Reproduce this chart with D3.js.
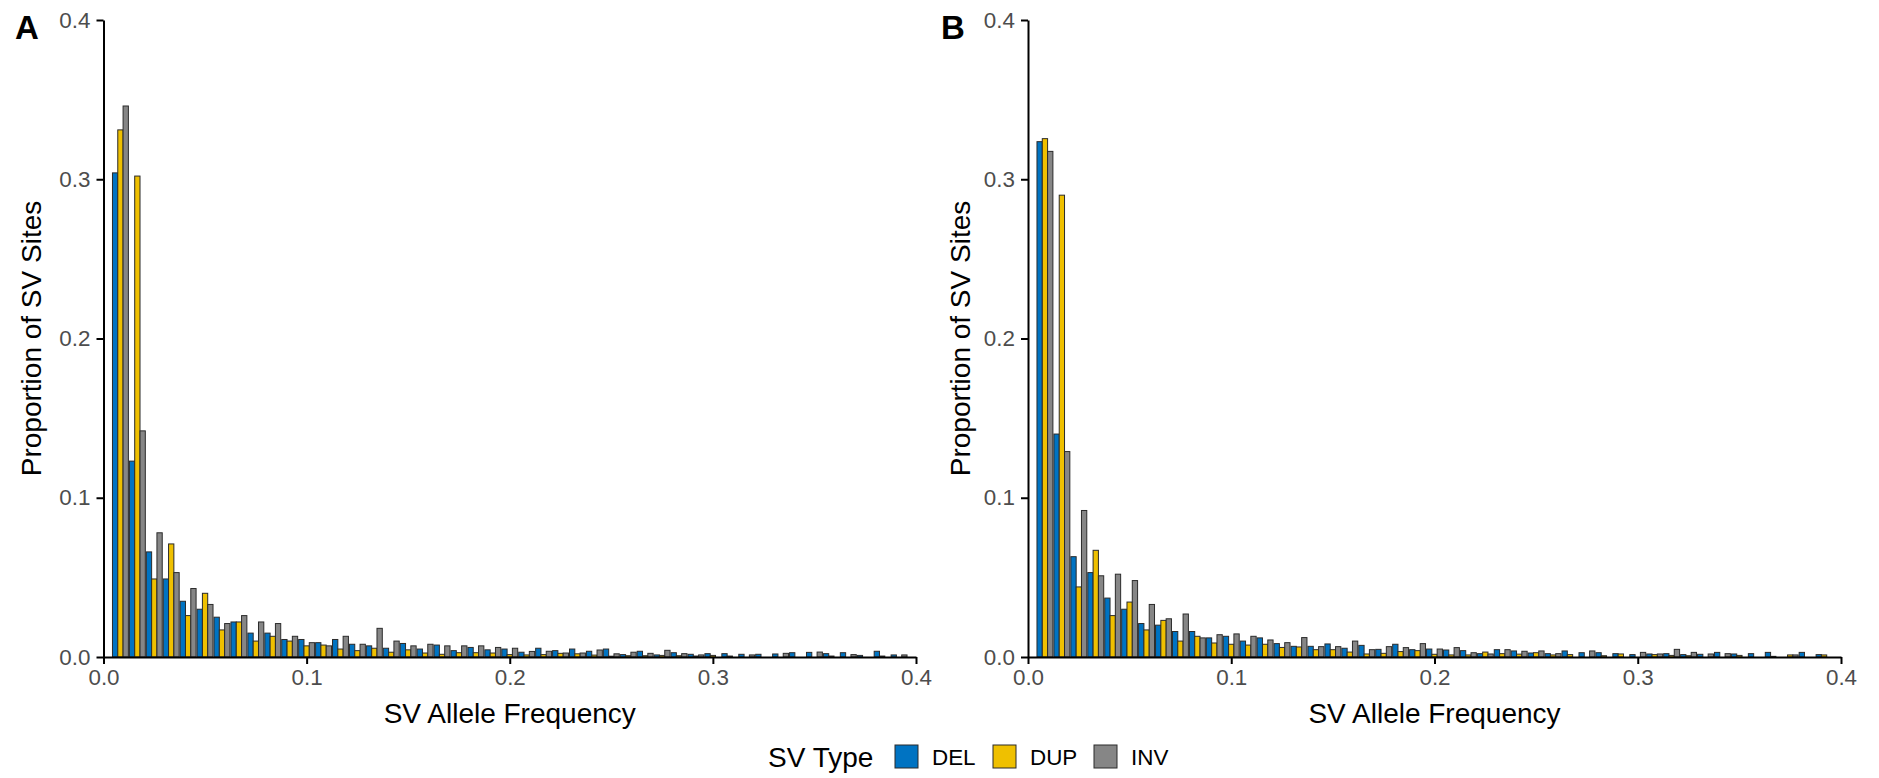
<!DOCTYPE html>
<html>
<head>
<meta charset="utf-8">
<script src="https://cdn.jsdelivr.net/npm/d3@7"></script>
<style>
	body { margin: 0; background: #fff; }
	svg text { font-family: "Liberation Sans", Arial, sans-serif; }
</style>
</head>
<body>
<div class="chart"></div>
<script>
// SV types and their fills (ggsci jco palette)
const types = ['DEL', 'DUP', 'INV'];
const colours = ['#0073C2', '#EFC000', '#868686'];

// histogram bins: width 1/120, first bin centred at 1/120
const binWidth = 1 / 120;
const binCount = 47;

const xTicks = [0, 0.1, 0.2, 0.3, 0.4];
const yTicks = [0, 0.1, 0.2, 0.3, 0.4];

// proportion of SV sites per bin, panel A
const delA = [0.304, 0.123, 0.066, 0.049, 0.035, 0.030, 0.025, 0.022, 0.015, 0.015,
	0.011, 0.011, 0.009, 0.011, 0.008, 0.007, 0.0055, 0.0085, 0.005, 0.0075,
	0.004, 0.006, 0.0045, 0.005, 0.003, 0.0055, 0.004, 0.005, 0.0036, 0.005,
	0.0015, 0.0036, 0.0013, 0.0027, 0.0017, 0.0021, 0.0021, 0.0017, 0.0017, 0.0019,
	0.0027, 0.0029, 0.0021, 0.0027, 0.001, 0.0036, 0.0013];
const dupA = [0.331, 0.302, 0.049, 0.071, 0.026, 0.040, 0.017, 0.022, 0.010, 0.013,
	0.010, 0.007, 0.0075, 0.005, 0.004, 0.0055, 0.003, 0.0045, 0.0025, 0.0017,
	0.0027, 0.0027, 0.0025, 0.0015, 0.0013, 0.0015, 0.0023, 0.002, 0.0012, 0.0005,
	0.0008, 0.0008, 0.001, 0.0008, 0.0006, 0.001, 0.0006, 0, 0, 0,
	0, 0, 0.0006, 0, 0, 0.0006, 0];
const invA = [0.346, 0.142, 0.078, 0.053, 0.043, 0.033, 0.021, 0.026, 0.022, 0.021,
	0.013, 0.009, 0.007, 0.013, 0.008, 0.018, 0.010, 0.007, 0.008, 0.007,
	0.007, 0.007, 0.006, 0.0055, 0.0035, 0.0036, 0.0025, 0.0025, 0.0044, 0.002,
	0.003, 0.0023, 0.0042, 0.0021, 0.0013, 0, 0, 0.0013, 0, 0.0023,
	0, 0.0031, 0, 0.0015, 0, 0, 0.0013];

// panel B
const delB = [0.3236, 0.140, 0.063, 0.053, 0.037, 0.030, 0.021, 0.020, 0.016, 0.016,
	0.012, 0.013, 0.010, 0.012, 0.0084, 0.0067, 0.0067, 0.0082, 0.0055, 0.0073,
	0.0048, 0.008, 0.0046, 0.005, 0.0044, 0.004, 0.0021, 0.0046, 0.0038, 0.0025,
	0.0021, 0.0038, 0.0027, 0.0027, 0.0021, 0.0015, 0.0019, 0.0021, 0.0015, 0.0017,
	0.0029, 0.0019, 0.0021, 0.0029, 0, 0.0029, 0.0015];
const dupB = [0.3255, 0.290, 0.044, 0.067, 0.026, 0.0345, 0.017, 0.023, 0.010, 0.013,
	0.0088, 0.008, 0.0075, 0.008, 0.006, 0.0063, 0.0046, 0.0046, 0.0031, 0.0019,
	0.0023, 0.0034, 0.004, 0.0017, 0.0013, 0.0013, 0.0031, 0.0021, 0.0018, 0.0027,
	0.0013, 0.0015, 0, 0.0008, 0.0019, 0, 0.0015, 0.001, 0.0008, 0,
	0, 0.001, 0, 0.0004, 0.0013, 0, 0.0013];
const invB = [0.3175, 0.129, 0.092, 0.051, 0.052, 0.048, 0.033, 0.024, 0.027, 0.012,
	0.014, 0.0145, 0.013, 0.0107, 0.009, 0.0122, 0.0065, 0.0065, 0.010, 0.0046,
	0.0065, 0.0059, 0.0084, 0.005, 0.0059, 0.0027, 0.0019, 0.0046, 0.0036, 0.0038,
	0.0021, 0, 0.0038, 0, 0, 0.0029, 0.0019, 0.0048, 0.0029, 0.0019,
	0.0021, 0, 0, 0, 0.0013, 0, 0];

const outerW = 1879,
	outerH = 778;

const plotTop = 20,
	plotBottom = 657;

const tickFont = '22.4px',
	titleFont = '28px';

const panels = [
	{ label: 'A', left: 103.5, right: 916, series: [delA, dupA, invA], labelX: 15, titleX: 31 },
	{ label: 'B', left: 1028, right: 1841, series: [delB, dupB, invB], labelX: 941, titleX: 960 }
];

const svg = d3.select('.chart').append('svg')
	.attr('width', outerW)
	.attr('height', outerH);

function build(p) {
	const g = svg.append('g').attr('class', 'panel');

	const x = d3.scaleLinear().domain([0, 0.4]).range([p.left, p.right]);
	const y = d3.scaleLinear().domain([0, 0.4]).range([plotBottom, plotTop]);

	// dodge the three types inside each bin
	const groupW = x(binWidth * 0.94) - x(0);
	const sub = d3.scaleBand().domain(types).range([-groupW / 2, groupW / 2]);

	const bins = d3.range(1, binCount + 1).map(k => k * binWidth);
	const rows = [];
	bins.forEach((b, i) => {
		types.forEach((t, j) => rows.push({ bin: b, type: t, value: p.series[j][i] }));
	});

	g.append('g').selectAll('rect')
		.data(rows)
		.enter().append('rect')
		.attr('x', d => x(d.bin) + sub(d.type))
		.attr('y', d => y(d.value))
		.attr('width', sub.bandwidth())
		.attr('height', d => y(0) - y(d.value))
		.attr('fill', d => colours[types.indexOf(d.type)])
		.attr('stroke', '#2b2b2b')
		.attr('stroke-width', 1);

	// axes
	const xAxis = g.append('g')
		.attr('transform', `translate(0, ${plotBottom})`)
		.call(d3.axisBottom(x)
			.tickValues(xTicks)
			.tickFormat(d3.format('.1f'))
			.tickSize(7)
			.tickSizeOuter(0)
			.tickPadding(5)
		);

	const yAxis = g.append('g')
		.attr('transform', `translate(${p.left}, 0)`)
		.call(d3.axisLeft(y)
			.tickValues(yTicks)
			.tickFormat(d3.format('.1f'))
			.tickSize(7)
			.tickSizeOuter(0)
			.tickPadding(6)
		);

	[xAxis, yAxis].forEach(a => {
		a.select('.domain').attr('stroke', '#000').attr('stroke-width', 2);
		a.selectAll('.tick line').attr('stroke', '#000').attr('stroke-width', 2);
		a.selectAll('.tick text')
			.attr('fill', '#4D4D4D')
			.style('font-size', tickFont);
	});

	// titles
	g.append('text')
		.attr('x', (p.left + p.right) / 2)
		.attr('y', 723)
		.attr('text-anchor', 'middle')
		.style('font-size', titleFont)
		.text('SV Allele Frequency');

	g.append('text')
		.attr('transform', `translate(${p.titleX}, ${(plotTop + plotBottom) / 2}) rotate(-90)`)
		.attr('text-anchor', 'middle')
		.attr('dy', '0.35em')
		.style('font-size', titleFont)
		.text('Proportion of SV Sites');

	g.append('text')
		.attr('x', p.labelX)
		.attr('y', 39)
		.style('font-size', '33px')
		.style('font-weight', 'bold')
		.text(p.label);
}

panels.forEach(build);

// shared legend
const legend = svg.append('g').attr('class', 'legend');

legend.append('text')
	.attr('x', 768)
	.attr('y', 767)
	.style('font-size', titleFont)
	.text('SV Type');

const keyX = [895, 993, 1094];
types.forEach((t, i) => {
	legend.append('rect')
		.attr('x', keyX[i])
		.attr('y', 745)
		.attr('width', 23)
		.attr('height', 23)
		.attr('fill', colours[i])
		.attr('stroke', '#2b2b2b')
		.attr('stroke-width', 1);
	legend.append('text')
		.attr('x', keyX[i] + 37)
		.attr('y', 765)
		.style('font-size', tickFont)
		.text(t);
});
</script>
</body>
</html>
